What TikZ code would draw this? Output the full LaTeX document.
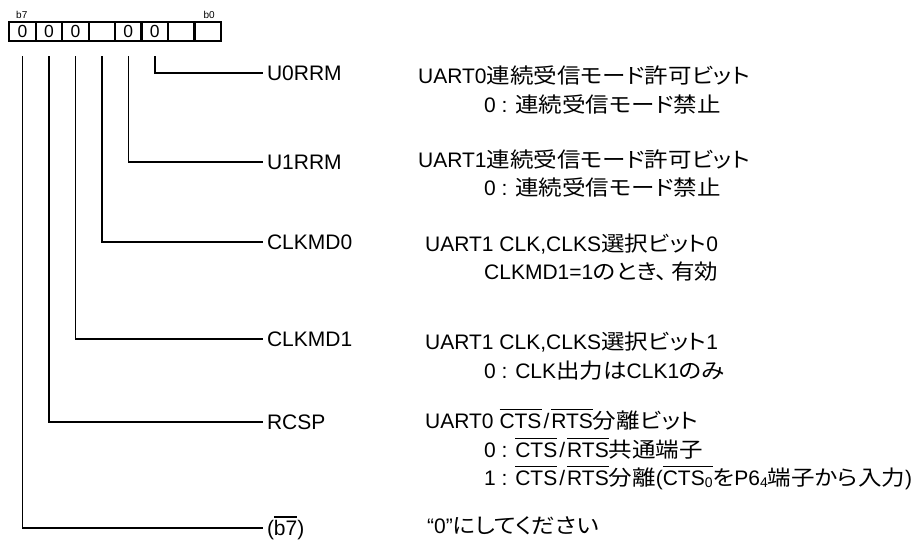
\documentclass[tikz,border=0pt]{standalone}
\usepackage{fontspec}
\setmainfont{Liberation Sans}
\newfontfamily\cjk[RawFeature=+palt,FakeStretch=1.12]{Noto Sans CJK JP}
\newcommand\J[1]{{\cjk #1}}
\newcommand\ol[1]{\vbox{\hrule height 1.1pt\kern 3pt\hbox{#1}}}
\newcommand\sub[1]{\raisebox{-2.5pt}{\fontsize{14}{14}\selectfont #1}}
\newcommand\sls{\kern2pt/\kern2pt}
\begin{document}
\begin{tikzpicture}[x=1pt,y=-1pt,
  every node/.style={inner sep=0pt, font=\fontsize{21}{21}\selectfont},
  cell/.style={draw, line width=2.2pt, minimum width=26.46pt, minimum height=19pt, anchor=center, font=\fontsize{17.5}{17.5}\selectfont},
  bitlbl/.style={font=\fontsize{10}{10}\selectfont},
  lbl/.style={anchor=west, text height=15.5pt, text depth=0pt, outer xsep=4pt},
  desc/.style={anchor=base west},
  conn/.style={line width=1.6pt}]
\useasboundingbox (0,0) rectangle (920,543);
% register cells
\node[cell] (c7) at (22.5,31.5) {0};
\node[cell] (c6) at (48.96,31.5) {0};
\node[cell] (c5) at (75.42,31.5) {0};
\node[cell] (c4) at (101.88,31.5) {};
\node[cell] (c3) at (128.34,31.5) {0};
\node[cell] (c2) at (154.8,31.5) {0};
\node[cell] (c1) at (181.26,31.5) {};
\node[cell] (c0) at (207.72,31.5) {};
\node[bitlbl, anchor=base west] (bhi) at (16,19) {b7};
\node[bitlbl, anchor=base east] (blo) at (215,19) {b0};
% labels
\node[lbl] (l2) at (263,73) {U0RRM};
\node[lbl] (l3) at (263,162) {U1RRM};
\node[lbl] (l4) at (263,242) {CLKMD0};
\node[lbl] (l5) at (263,339) {CLKMD1};
\node[lbl] (l6) at (263,422) {RCSP};
\node[lbl] (l7) at (263,528) {(\ol{b7})};
% connectors
\draw[conn] ([yshift=-14pt]c2.south) |- (l2.west);
\draw[conn] ([yshift=-14pt]c3.south) |- (l3.west);
\draw[conn] ([yshift=-14pt]c4.south) |- (l4.west);
\draw[conn] ([yshift=-14pt]c5.south) |- (l5.west);
\draw[conn] ([yshift=-14pt]c6.south) |- (l6.west);
\draw[conn] ([yshift=-14pt]c7.south) |- (l7.west);
% descriptions
\node[desc] (d2a) at (418,83) {UART0\J{連続受信モード許可ビット}};
\node[desc] (d2b) at (484,112) {0 : \J{連続受信モード禁止}};
\node[desc] (d3a) at (418,167) {UART1\J{連続受信モード許可ビット}};
\node[desc] (d3b) at (484,195) {0 : \J{連続受信モード禁止}};
\node[desc] (d4a) at (425,251) {UART1 CLK,CLKS\J{選択ビット}0};
\node[desc] (d4b) at (484,279) {CLKMD1=1\J{のとき、\kern4pt有効}};
\node[desc] (d5a) at (425,349) {UART1 CLK,CLKS\J{選択ビット}1};
\node[desc] (d5b) at (484,378) {0 : CLK\J{出力は}CLK1\J{のみ}};
\node[desc] (d6a) at (425,428) {UART0 \ol{CTS}\sls\ol{RTS}\J{分離ビット}};
\node[desc] (d6b) at (484,457) {0 : \ol{CTS}\sls\ol{RTS}\J{共通端子}};
\node[desc] (d6c) at (484,485) {1 : \ol{CTS}\sls\ol{RTS}\J{分離}(\ol{CTS\sub{0}}\J{を}P6\sub{4}\J{端子から入力})};
\node[desc] (d7a) at (427,533) {“0”\J{にしてください}};
\end{tikzpicture}
\end{document}
